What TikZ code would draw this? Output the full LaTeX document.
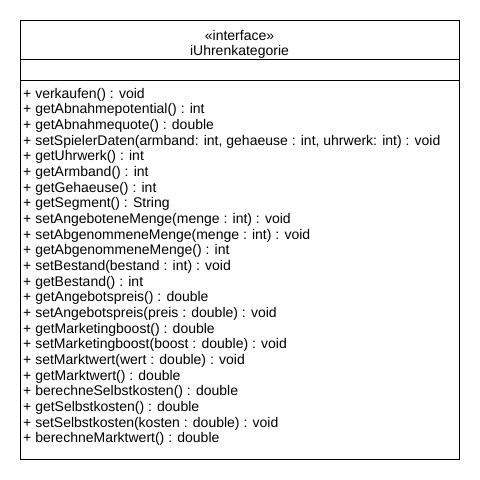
\documentclass[tikz,border=0pt]{standalone}
\usepackage{fontspec}
\setmainfont{Liberation Sans}
\usetikzlibrary{
	positioning
}

\begin{document}
\begin{tikzpicture}[x=1pt,y=-1pt,
		member/.style={anchor=base west,inner sep=0pt,font=\fontsize{14}{16}\selectfont},
		title/.style={anchor=base,inner sep=0pt,font=\fontsize{14}{16}\selectfont}
	]
	\useasboundingbox (0,0) rectangle (480,480);

	% class box with its three compartments
	\draw
		(20,20) rectangle (459,459)
		(20,59) -- (459,59)
		(20,80) -- (459,80)
	;

	\node[title] (stereo) at (239.5,40) {«interface»};
	\node[title] (name) at ([yshift=-15pt]stereo.base) {iUhrenkategorie};

	\foreach \m [count=\i] in {
			verkaufen() : void,
			getAbnahmepotential() : int,
			getAbnahmequote() : double,
			{setSpielerDaten(armband: int, gehaeuse : int, uhrwerk: int) : void},
			getUhrwerk() : int,
			getArmband() : int,
			getGehaeuse() : int,
			getSegment() : String,
			setAngeboteneMenge(menge : int) : void,
			setAbgenommeneMenge(menge : int) : void,
			getAbgenommeneMenge() : int,
			setBestand(bestand : int) : void,
			getBestand() : int,
			getAngebotspreis() : double,
			setAngebotspreis(preis : double) : void,
			getMarketingboost() : double,
			setMarketingboost(boost : double) : void,
			setMarktwert(wert : double) : void,
			getMarktwert() : double,
			berechneSelbstkosten() : double,
			getSelbstkosten() : double,
			setSelbstkosten(kosten : double) : void,
			berechneMarktwert() : double}
		\node[member] (m\i) at (23,{98+15.68*(\i-1)}) {+ \m};
\end{tikzpicture}
\end{document}
